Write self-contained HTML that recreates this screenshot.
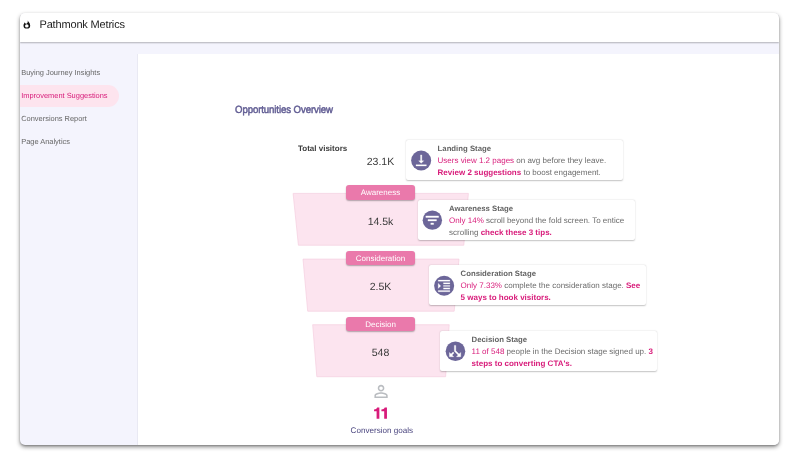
<!DOCTYPE html>
<html>
<head>
<meta charset="utf-8">
<style>
*{box-sizing:border-box;margin:0;padding:0}
html,body{width:794px;height:462px;overflow:hidden;background:#fff;font-family:"Liberation Sans",sans-serif;text-rendering:geometricPrecision;}
.root{position:absolute;left:0;top:0;width:794px;height:462px;will-change:transform;overflow:hidden}
.win{position:absolute;left:19.5px;top:13px;width:759.5px;height:432px;border-radius:5px;background:#f4f4fd;box-shadow:0 2px 4px rgba(0,0,0,.45),0 1px 2px rgba(0,0,0,.2);overflow:hidden}
.hdr{position:absolute;left:0;top:0;width:100%;height:29px;background:#fff;box-shadow:0 1px 1.5px rgba(0,0,0,.27);z-index:2}
.hdr .t{position:absolute;left:20px;top:5.5px;font-size:11px;color:#222;letter-spacing:-0.17px}
.hdr svg{position:absolute}
.side{position:absolute;left:0;top:29px;width:118px;bottom:0}
.side .it{position:absolute;left:1.7px;font-size:7.45px;color:#666;white-space:nowrap}
.pill{position:absolute;left:-10px;top:42.7px;width:109.7px;height:22.5px;border-radius:12px;background:#fde4ee}
.main{position:absolute;left:117.5px;top:41px;right:0;bottom:0;background:#fff;border-left:1px solid #e9e9f3}
.abs{position:absolute;white-space:nowrap}
.card{position:absolute;background:#fff;border-radius:2px;box-shadow:0 0.5px 1.5px rgba(0,0,0,.24);height:40px;width:217px}
.card .ic{position:absolute;left:3px;top:8px;width:24px;height:24px}
.card .tx{position:absolute;left:31.6px;top:2.6px;font-size:8px;line-height:12px;color:#6b6b6b;white-space:nowrap}
.card .tx b.h{color:#646464;font-size:7.75px}
.pk{color:#d81b7a}
.lab{position:absolute;left:326.5px;width:69px;height:14.2px;border-radius:3px;background:#ea79ab;color:#fff;font-size:8px;text-align:center;line-height:16.3px;overflow:hidden;box-shadow:0 1px 1.5px rgba(0,0,0,.3)}
.num{position:absolute;font-size:10.5px;color:#3a3a3a;width:80px;text-align:center;left:321px}
</style>
</head>
<body>
<div class="root">
<div class="win">
  <div class="hdr">
    <svg width="40" height="29" viewBox="19.5 13 40 29" style="left:0;top:0"><path fill-rule="evenodd" d="M27.3 20.6 C27.6 22 29.7 23 29.7 25.4 A3.35 3.2 0 0 1 23 25.4 C23 24 23.8 23 24.4 22.2 C24.6 23.2 25.2 23.8 26 23.8 C26.9 23.6 27.4 22.3 27.3 20.6 Z M26.3 24.2 A1.8 1.7 0 1 0 26.3 27.6 A1.8 1.7 0 1 0 26.3 24.2 Z" fill="#111"/></svg>
    <div class="t">Pathmonk Metrics</div>
  </div>
  <div class="side">
    <div class="pill"></div>
    <div class="it" style="top:25.9px">Buying Journey Insights</div>
    <div class="it" style="top:49.2px;color:#d81b7a">Improvement Suggestions</div>
    <div class="it" style="top:72px">Conversions Report</div>
    <div class="it" style="top:94.8px">Page Analytics</div>
  </div>
  <div class="main"></div>

  <!-- content positioned relative to window -->
  <div class="abs" style="left:215.2px;top:91px;font-size:10.5px;color:#625e94;-webkit-text-stroke:0.5px #625e94;letter-spacing:-0.1px;transform:scaleX(0.915);transform-origin:0 0">Opportunities Overview</div>
  <div class="abs" style="left:278.5px;top:130.8px;font-size:8px;color:#3c3c3c;font-weight:bold">Total visitors</div>
  <div class="num" style="top:143.1px">23.1K</div>

  <svg class="abs" style="left:0;top:0" width="760" height="432">
    <polygon points="273.1,180.4 448.4,180.4 443.8,232.2 278.4,232.2" fill="#fce4ef" stroke="#f5cfdf" stroke-width="0.7"/>
    <polygon points="283,246.1 439,246.1 434.2,298.2 287.7,298.2" fill="#fce4ef" stroke="#f5cfdf" stroke-width="0.7"/>
    <polygon points="292.7,311.7 429.2,311.7 425.6,363.7 296.8,363.7" fill="#fce4ef" stroke="#f5cfdf" stroke-width="0.7"/>
    <g transform="translate(351.1,368.5) scale(0.83)"><path fill="#babdc1" d="M12 5.9c1.16 0 2.1.94 2.1 2.1s-.94 2.1-2.1 2.1S9.9 9.16 9.9 8s.94-2.1 2.1-2.1m0 9c2.97 0 6.1 1.46 6.1 2.1v1.1H5.9V17c0-.64 3.13-2.1 6.1-2.1M12 4C9.79 4 8 5.79 8 8s1.790 4 4 4 4-1.79 4-4-1.79-4-4-4zm0 9c-2.67 0-8 1.34-8 4v3h16v-3c0-2.66-5.33-4-8-4z"/></g>
    <path d="M359.35 394.5 L359.35 405.7 L356.6 405.7 L356.6 398.3 L354.05 398.3 L354.05 396.4 C355.65 396.4 356.80 395.7 357.15 394.5 Z M366.95 394.5 L366.95 405.7 L364.2 405.7 L364.2 398.3 L361.4 398.3 L361.4 396.4 C363.00 396.4 364.40 395.7 364.75 394.5 Z" fill="#d81b7a"/>
  </svg>

  <div class="lab" style="top:172.2px;height:14.6px">Awareness</div>
  <div class="num" style="top:203px">14.5k</div>
  <div class="lab" style="top:238.1px">Consideration</div>
  <div class="num" style="top:268.3px">2.5K</div>
  <div class="lab" style="top:303.8px">Decision</div>
  <div class="num" style="top:334.1px">548</div>

  <div class="card" style="left:386.5px;top:127px">
    <svg class="ic" viewBox="0 0 24 24"><g transform="translate(2.15,2.50) scale(1.000)"><circle cx="10" cy="10" r="10" fill="#6c6699"/><g transform="translate(2.3,1.9) scale(0.645)" fill="#fff" stroke="#fff" stroke-width="0.45"><path d="M16 13h-3V3.9h-2V13H8l4 4 4-4zM4 19v2h16v-2H4z"/></g></g></svg>
    <div class="tx"><b class="h">Landing Stage</b><br><span class="pk">Users view 1.2 pages</span> on avg before they leave.<br><b class="pk">Review 2 suggestions</b> to boost engagement.</div>
  </div>
  <div class="card" style="left:398.5px;top:187px">
    <svg class="ic" viewBox="0 0 24 24"><g transform="translate(1.65,2.45) scale(0.970)"><circle cx="10" cy="10" r="10" fill="#6c6699"/><g transform="translate(1.1,1.3) scale(0.73)" fill="#fff" stroke="#fff" stroke-width="0.5"><path d="M10 18h4v-2h-4v2zM3 6v2h18V6H3zm3 7h12v-2H6v2z"/></g></g></svg>
    <div class="tx" style="left:31.1px"><b class="h">Awareness Stage</b><br><span class="pk">Only 14%</span> scroll beyond the fold screen. To entice<br>scrolling <b class="pk">check these 3 tips.</b></div>
  </div>
  <div class="card" style="left:409.5px;top:252px">
    <svg class="ic" viewBox="0 0 24 24"><g transform="translate(2.15,2.70) scale(1.000)"><circle cx="10" cy="10" r="10" fill="#6c6699"/><g transform="translate(2.1,2.4) scale(0.65)" fill="#fff" stroke="#fff" stroke-width="0.3"><path d="M3 21h18v-2H3v2zM3 8v8l4-4-4-4zM3 3v2h18V3H3zm8 6h10V7H11v2z"/><path d="M11 17h10v-2H11v2z"/><path d="M11 13h10v-2H11v2z" fill-opacity="0.75"/></g></g></svg>
    <div class="tx" style="top:3.1px"><b class="h">Consideration Stage</b><br><span class="pk">Only 7.33%</span> complete the consideration stage. <b class="pk">See</b><br><b class="pk">5 ways to hook visitors.</b></div>
  </div>
  <div class="card" style="left:420.5px;top:318px">
    <svg class="ic" viewBox="0 0 24 24"><g transform="translate(2.65,2.45) scale(0.980)"><circle cx="10" cy="10" r="10" fill="#6c6699"/><g transform="translate(18.25,18.45) scale(-0.72)" fill="#fff" stroke="#fff" stroke-width="0.5" stroke-linejoin="round"><path d="M14 4l2.29 2.29-2.88 2.88 1.42 1.42 2.88-2.88L20 10V4zm-4 0H4v6l2.29-2.29 4.71 4.7V20h2v-8.41l-5.29-5.3z"/></g></g></svg>
    <div class="tx"><b class="h">Decision Stage</b><br><span class="pk">11 of 548</span> people in the Decision stage signed up. <b class="pk">3</b><br><b class="pk">steps to converting CTA's.</b></div>
  </div>
  <div class="abs" style="left:312.4px;width:100px;text-align:center;top:412.6px;font-size:8.1px;color:#4a457f">Conversion goals</div>
</div>
</div>
</body>
</html>
